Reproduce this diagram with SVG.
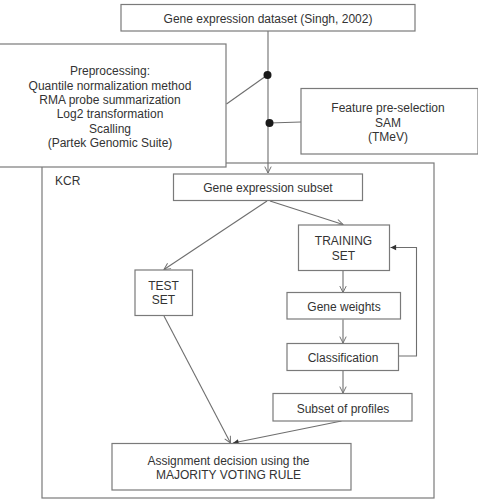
<svg xmlns="http://www.w3.org/2000/svg" width="478" height="499" viewBox="0 0 478 499">
<style>
.box{fill:#fff;stroke:#7a7a7a;stroke-width:1.2}
.frame{fill:none;stroke:#7a7a7a;stroke-width:1.2}
.t{font-family:"Liberation Sans",Arial,sans-serif;font-size:12px;fill:#333;text-anchor:middle}
.c{fill:none;stroke:#6e6e6e;stroke-width:1.1}
</style>
<defs>
<marker id="open" viewBox="0 0 10 10" refX="9" refY="5" markerWidth="8" markerHeight="8" orient="auto" markerUnits="userSpaceOnUse">
<path d="M1,1 L9,5 L1,9" fill="none" stroke="#6e6e6e" stroke-width="1.2"/>
</marker>
<marker id="fill" viewBox="0 0 10 10" refX="9" refY="5" markerWidth="7" markerHeight="7" orient="auto" markerUnits="userSpaceOnUse">
<path d="M1,1 L9,5 L1,9 Z" fill="#333"/>
</marker>
</defs>
<rect width="478" height="499" fill="#fff"/>
<g id="kcr">
<rect class="frame" x="42" y="163" width="392" height="335"/>
<text class="t" x="55" y="184.5" style="text-anchor:start">KCR</text>
</g>
<g id="preprocessing">
<rect class="box" x="-1" y="44" width="227" height="123"/>
<text class="t" x="110" y="75">Preprocessing:</text>
<text class="t" x="110" y="89.5">Quantile normalization method</text>
<text class="t" x="110" y="104">RMA probe summarization</text>
<text class="t" x="110" y="118">Log2 transformation</text>
<text class="t" x="110" y="132.5">Scalling</text>
<text class="t" x="110" y="147">(Partek Genomic Suite)</text>
</g>
<g id="connectors">
<line class="c" x1="268" y1="31" x2="268" y2="173" marker-end="url(#open)"/>
<line class="c" x1="226.5" y1="104" x2="266" y2="76"/>
<line class="c" x1="269" y1="123" x2="301" y2="122"/>
<line class="c" x1="267" y1="201" x2="164" y2="269.5" marker-end="url(#open)"/>
<line class="c" x1="270" y1="201" x2="343" y2="224.5" marker-end="url(#open)"/>
<line class="c" x1="343" y1="271" x2="343" y2="292.5" marker-end="url(#open)"/>
<line class="c" x1="343" y1="319.5" x2="343" y2="343" marker-end="url(#open)"/>
<line class="c" x1="343" y1="370.5" x2="343" y2="393" marker-end="url(#open)"/>
<polyline class="c" points="399,356 416.5,356 416.5,247.5 390.5,247.5" marker-end="url(#fill)"/>
<line class="c" x1="164" y1="316" x2="230.5" y2="443" marker-end="url(#open)"/>
<line class="c" x1="341.5" y1="421" x2="233" y2="443" marker-end="url(#fill)"/>
<circle cx="267.5" cy="75" r="4" fill="#1a1a1a"/>
<circle cx="269.5" cy="123" r="4" fill="#1a1a1a"/>
</g>
<g id="dataset">
<rect class="box" x="121" y="4.5" width="294" height="26.5"/>
<text class="t" x="268" y="22.5">Gene expression dataset (Singh, 2002)</text>
</g>
<g id="feature">
<rect class="box" x="301" y="88.5" width="177" height="65.5"/>
<text class="t" x="388" y="112">Feature pre-selection</text>
<text class="t" x="388" y="126.5">SAM</text>
<text class="t" x="388" y="141">(TMeV)</text>
</g>
<g id="subset">
<rect class="box" x="173.5" y="174" width="189" height="26.5"/>
<text class="t" x="268" y="192">Gene expression subset</text>
</g>
<g id="training">
<rect class="box" x="298.5" y="225" width="91" height="45.5"/>
<text class="t" x="343.5" y="245">TRAINING</text>
<text class="t" x="343.5" y="259.5">SET</text>
</g>
<g id="test">
<rect class="box" x="135" y="270" width="57.5" height="45.5"/>
<text class="t" x="163.5" y="289.5">TEST</text>
<text class="t" x="163.5" y="303.5">SET</text>
</g>
<g id="weights">
<rect class="box" x="287" y="292.5" width="113.5" height="26.5"/>
<text class="t" x="344" y="310.5">Gene weights</text>
</g>
<g id="classification">
<rect class="box" x="287" y="343.5" width="111.5" height="27"/>
<text class="t" x="343" y="361.5">Classification</text>
</g>
<g id="profiles">
<rect class="box" x="273" y="393.5" width="139" height="27.5"/>
<text class="t" x="343" y="412.5">Subset of profiles</text>
</g>
<g id="assignment">
<rect class="box" x="112" y="443.5" width="239" height="46.5"/>
<text class="t" x="228.5" y="464.5">Assignment decision using the</text>
<text class="t" x="228.5" y="479">MAJORITY VOTING RULE</text>
</g>
</svg>
